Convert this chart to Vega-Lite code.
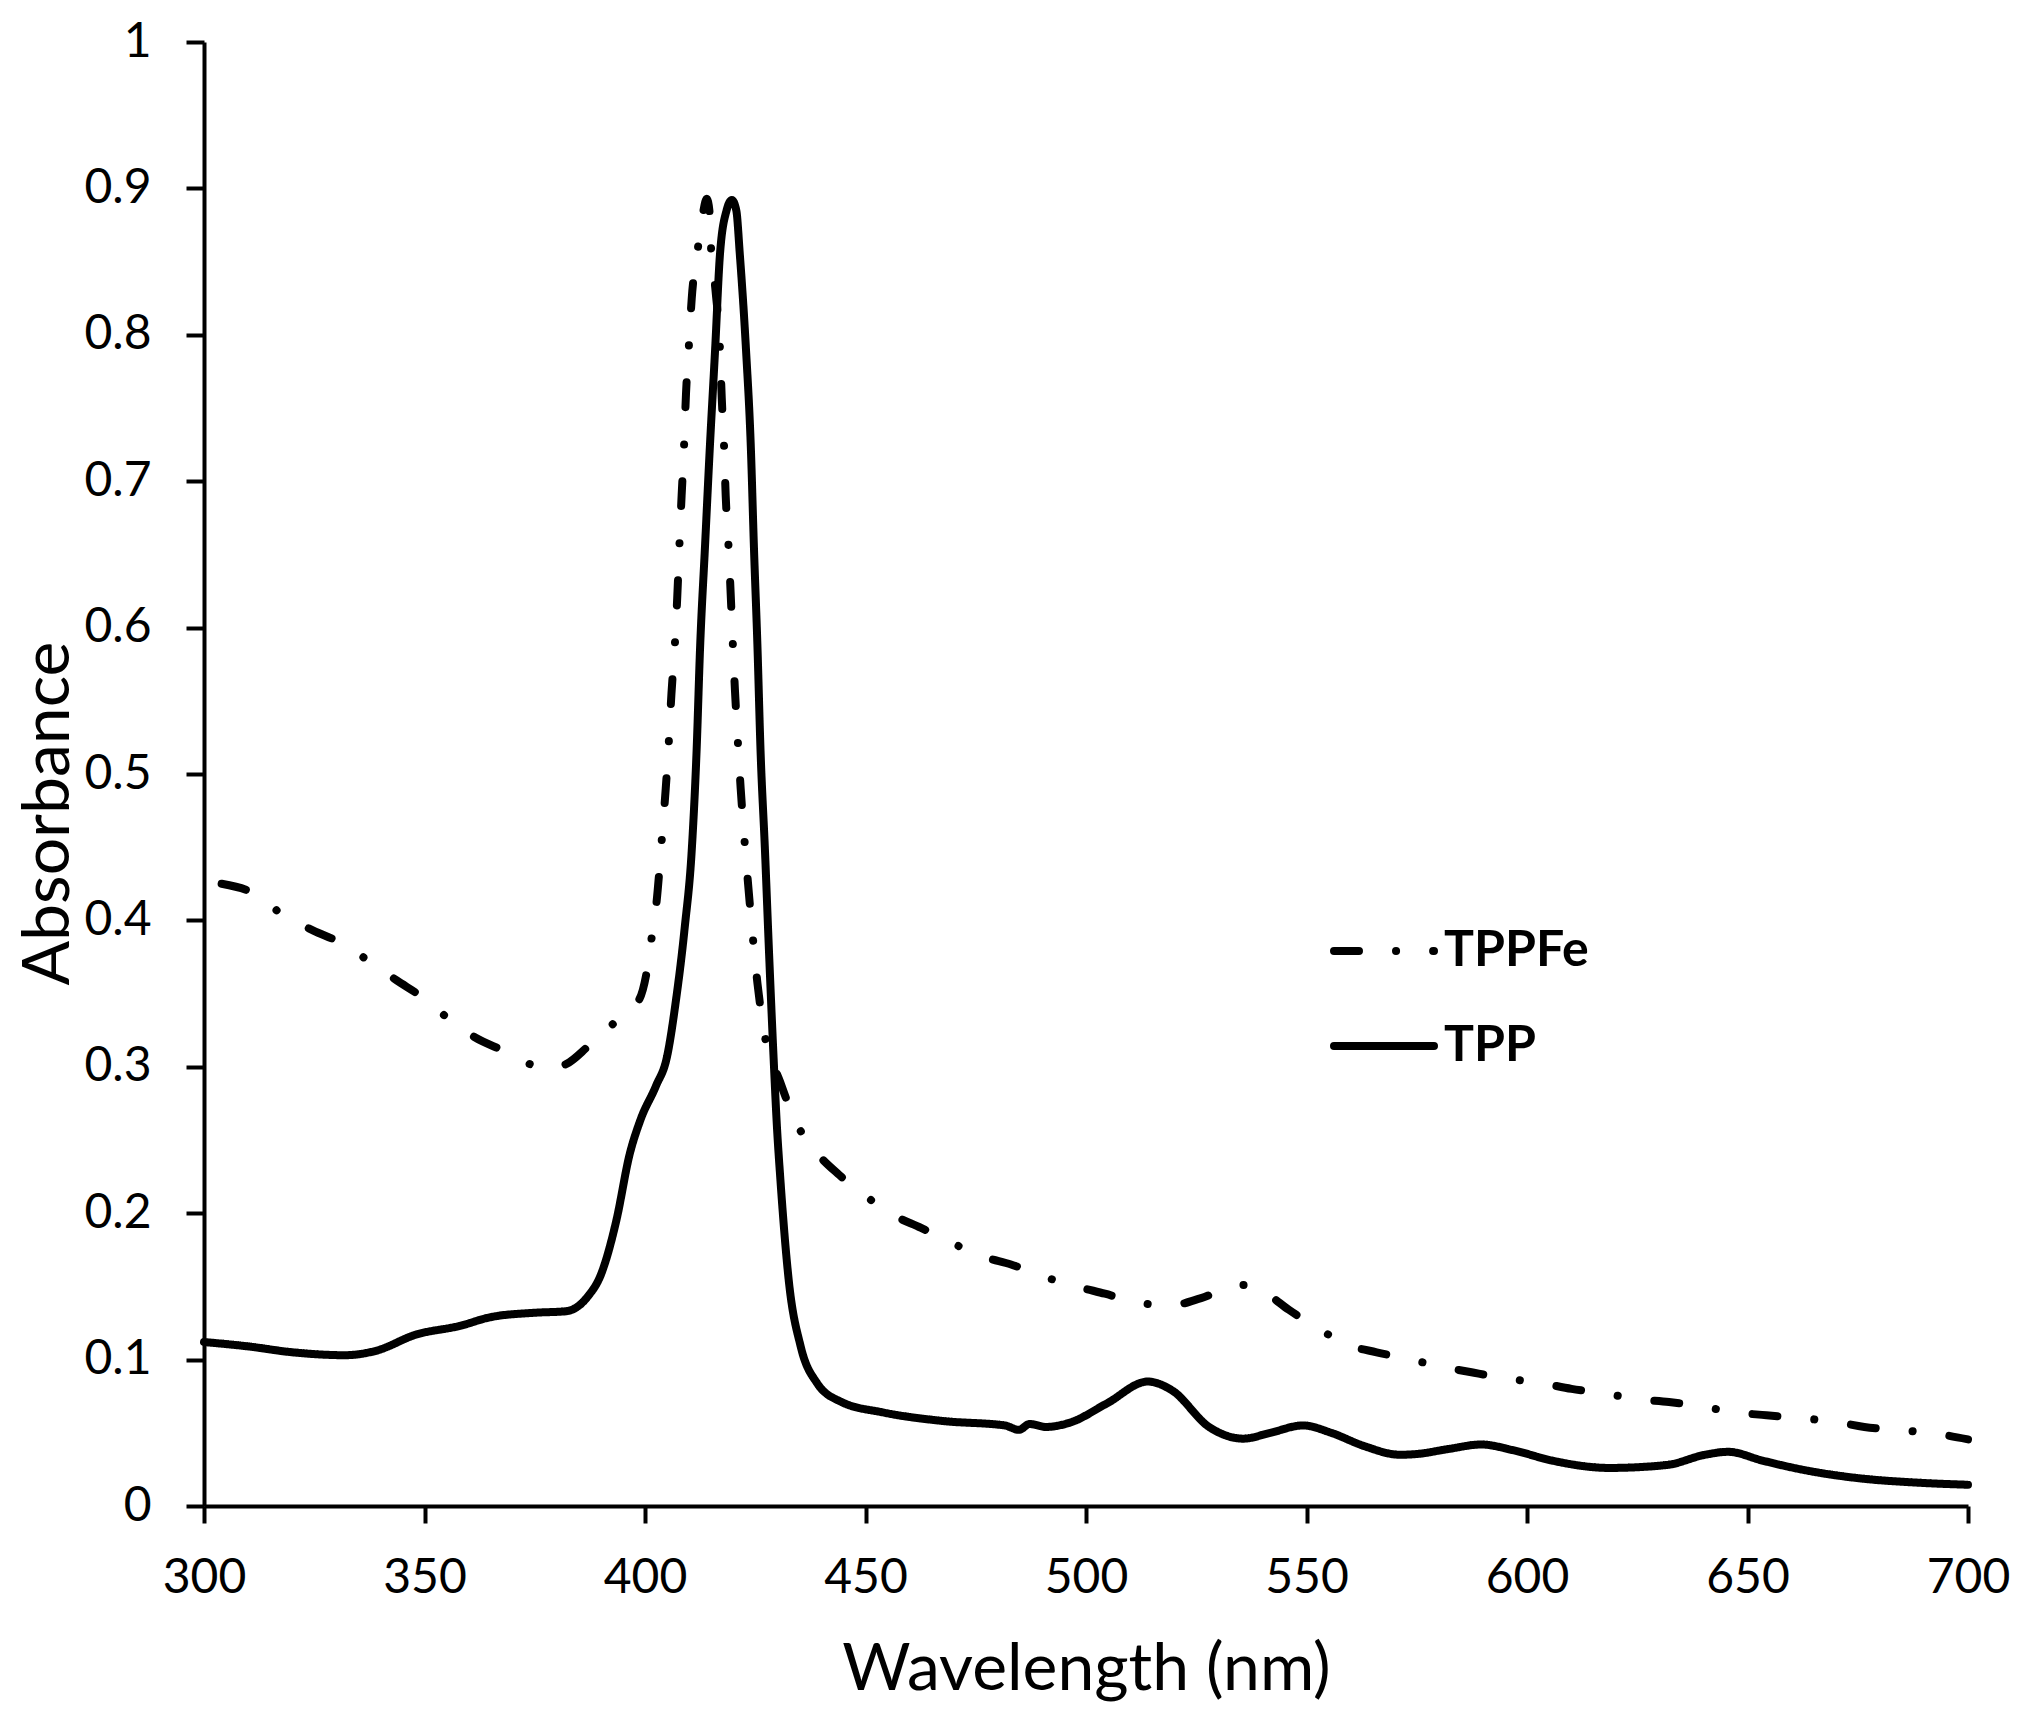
{
  "$schema": "https://vega.github.io/schema/vega-lite/v6.json",
  "width": 1764,
  "height": 1464,
  "autosize": "none",
  "padding": {"left": 204, "top": 42, "right": 64, "bottom": 224},
  "background": "white",
  "config": {"view": {"stroke": null}, "font": "Lato"},
  "data": {
    "values": [
      {"series": "TPP", "wl": 300, "a": 0.112},
      {"series": "TPP", "wl": 310, "a": 0.109},
      {"series": "TPP", "wl": 320, "a": 0.105},
      {"series": "TPP", "wl": 332, "a": 0.103},
      {"series": "TPP", "wl": 339, "a": 0.106},
      {"series": "TPP", "wl": 348, "a": 0.117},
      {"series": "TPP", "wl": 358, "a": 0.123},
      {"series": "TPP", "wl": 365, "a": 0.129},
      {"series": "TPP", "wl": 375, "a": 0.132},
      {"series": "TPP", "wl": 382, "a": 0.133},
      {"series": "TPP", "wl": 387, "a": 0.143},
      {"series": "TPP", "wl": 390, "a": 0.158},
      {"series": "TPP", "wl": 393.5, "a": 0.195},
      {"series": "TPP", "wl": 396.5, "a": 0.24},
      {"series": "TPP", "wl": 399, "a": 0.264},
      {"series": "TPP", "wl": 402.5, "a": 0.287},
      {"series": "TPP", "wl": 405, "a": 0.307},
      {"series": "TPP", "wl": 407, "a": 0.345},
      {"series": "TPP", "wl": 409, "a": 0.395},
      {"series": "TPP", "wl": 410.6, "a": 0.448},
      {"series": "TPP", "wl": 411.7, "a": 0.516},
      {"series": "TPP", "wl": 412.5, "a": 0.587},
      {"series": "TPP", "wl": 413.6, "a": 0.655},
      {"series": "TPP", "wl": 414.7, "a": 0.723},
      {"series": "TPP", "wl": 415.9, "a": 0.79},
      {"series": "TPP", "wl": 417, "a": 0.855},
      {"series": "TPP", "wl": 418.5, "a": 0.885},
      {"series": "TPP", "wl": 419.7, "a": 0.892},
      {"series": "TPP", "wl": 420.7, "a": 0.885},
      {"series": "TPP", "wl": 421.5, "a": 0.855},
      {"series": "TPP", "wl": 422.9, "a": 0.79},
      {"series": "TPP", "wl": 424, "a": 0.723},
      {"series": "TPP", "wl": 424.7, "a": 0.655},
      {"series": "TPP", "wl": 425.5, "a": 0.587},
      {"series": "TPP", "wl": 426.2, "a": 0.516},
      {"series": "TPP", "wl": 427.2, "a": 0.448},
      {"series": "TPP", "wl": 428.1, "a": 0.38},
      {"series": "TPP", "wl": 429.1, "a": 0.31},
      {"series": "TPP", "wl": 429.9, "a": 0.26},
      {"series": "TPP", "wl": 430.7, "a": 0.223},
      {"series": "TPP", "wl": 432.6, "a": 0.154},
      {"series": "TPP", "wl": 435.3, "a": 0.109},
      {"series": "TPP", "wl": 439, "a": 0.084},
      {"series": "TPP", "wl": 444.6, "a": 0.071},
      {"series": "TPP", "wl": 453.8, "a": 0.064},
      {"series": "TPP", "wl": 467.7, "a": 0.058},
      {"series": "TPP", "wl": 481.6, "a": 0.055},
      {"series": "TPP", "wl": 484.8, "a": 0.052},
      {"series": "TPP", "wl": 487.2, "a": 0.056},
      {"series": "TPP", "wl": 490.9, "a": 0.054},
      {"series": "TPP", "wl": 496.4, "a": 0.057},
      {"series": "TPP", "wl": 504.7, "a": 0.07},
      {"series": "TPP", "wl": 514, "a": 0.085},
      {"series": "TPP", "wl": 519.5, "a": 0.079},
      {"series": "TPP", "wl": 527.9, "a": 0.054},
      {"series": "TPP", "wl": 535.7, "a": 0.046},
      {"series": "TPP", "wl": 541.8, "a": 0.05},
      {"series": "TPP", "wl": 549.2, "a": 0.055},
      {"series": "TPP", "wl": 555.6, "a": 0.05},
      {"series": "TPP", "wl": 563, "a": 0.041},
      {"series": "TPP", "wl": 571.2, "a": 0.035},
      {"series": "TPP", "wl": 575, "a": 0.0355},
      {"series": "TPP", "wl": 582.3, "a": 0.039},
      {"series": "TPP", "wl": 589.6, "a": 0.042},
      {"series": "TPP", "wl": 597, "a": 0.038},
      {"series": "TPP", "wl": 605.7, "a": 0.031},
      {"series": "TPP", "wl": 618.7, "a": 0.026},
      {"series": "TPP", "wl": 631.7, "a": 0.028},
      {"series": "TPP", "wl": 640.4, "a": 0.035},
      {"series": "TPP", "wl": 645.6, "a": 0.037},
      {"series": "TPP", "wl": 653.4, "a": 0.031},
      {"series": "TPP", "wl": 662.1, "a": 0.025},
      {"series": "TPP", "wl": 675.1, "a": 0.019},
      {"series": "TPP", "wl": 688.2, "a": 0.016},
      {"series": "TPP", "wl": 700, "a": 0.0145},
      {"series": "TPPFe", "wl": 304, "a": 0.425},
      {"series": "TPPFe", "wl": 311.6, "a": 0.418},
      {"series": "TPPFe", "wl": 317.8, "a": 0.404},
      {"series": "TPPFe", "wl": 324.8, "a": 0.393},
      {"series": "TPPFe", "wl": 330.8, "a": 0.385},
      {"series": "TPPFe", "wl": 337.5, "a": 0.372},
      {"series": "TPPFe", "wl": 343.7, "a": 0.359},
      {"series": "TPPFe", "wl": 349.3, "a": 0.348},
      {"series": "TPPFe", "wl": 355.4, "a": 0.333},
      {"series": "TPPFe", "wl": 361.5, "a": 0.32},
      {"series": "TPPFe", "wl": 367.9, "a": 0.311},
      {"series": "TPPFe", "wl": 374.7, "a": 0.301},
      {"series": "TPPFe", "wl": 378, "a": 0.299},
      {"series": "TPPFe", "wl": 382.2, "a": 0.302},
      {"series": "TPPFe", "wl": 387.1, "a": 0.314},
      {"series": "TPPFe", "wl": 393, "a": 0.33},
      {"series": "TPPFe", "wl": 398.7, "a": 0.346},
      {"series": "TPPFe", "wl": 400.4, "a": 0.365},
      {"series": "TPPFe", "wl": 401.5, "a": 0.388},
      {"series": "TPPFe", "wl": 402.6, "a": 0.412},
      {"series": "TPPFe", "wl": 403.8, "a": 0.455},
      {"series": "TPPFe", "wl": 404.7, "a": 0.49},
      {"series": "TPPFe", "wl": 405.4, "a": 0.522},
      {"series": "TPPFe", "wl": 406, "a": 0.555},
      {"series": "TPPFe", "wl": 406.8, "a": 0.59},
      {"series": "TPPFe", "wl": 407.3, "a": 0.62},
      {"series": "TPPFe", "wl": 407.8, "a": 0.656},
      {"series": "TPPFe", "wl": 408.3, "a": 0.69},
      {"series": "TPPFe", "wl": 408.8, "a": 0.72},
      {"series": "TPPFe", "wl": 409.3, "a": 0.76},
      {"series": "TPPFe", "wl": 409.9, "a": 0.79},
      {"series": "TPPFe", "wl": 410.6, "a": 0.825},
      {"series": "TPPFe", "wl": 411.9, "a": 0.857},
      {"series": "TPPFe", "wl": 413.2, "a": 0.884},
      {"series": "TPPFe", "wl": 414, "a": 0.893},
      {"series": "TPPFe", "wl": 414.6, "a": 0.885},
      {"series": "TPPFe", "wl": 415, "a": 0.858},
      {"series": "TPPFe", "wl": 416, "a": 0.83},
      {"series": "TPPFe", "wl": 417, "a": 0.79},
      {"series": "TPPFe", "wl": 417.4, "a": 0.757},
      {"series": "TPPFe", "wl": 417.9, "a": 0.726},
      {"series": "TPPFe", "wl": 418.3, "a": 0.69},
      {"series": "TPPFe", "wl": 418.9, "a": 0.658},
      {"series": "TPPFe", "wl": 419.4, "a": 0.625},
      {"series": "TPPFe", "wl": 419.9, "a": 0.59},
      {"series": "TPPFe", "wl": 420.4, "a": 0.557},
      {"series": "TPPFe", "wl": 421, "a": 0.525},
      {"series": "TPPFe", "wl": 421.7, "a": 0.49},
      {"series": "TPPFe", "wl": 422.5, "a": 0.457},
      {"series": "TPPFe", "wl": 423.4, "a": 0.424},
      {"series": "TPPFe", "wl": 424.4, "a": 0.39},
      {"series": "TPPFe", "wl": 425.5, "a": 0.357},
      {"series": "TPPFe", "wl": 427, "a": 0.324},
      {"series": "TPPFe", "wl": 430.6, "a": 0.29},
      {"series": "TPPFe", "wl": 434.6, "a": 0.26},
      {"series": "TPPFe", "wl": 439, "a": 0.241},
      {"series": "TPPFe", "wl": 444.1, "a": 0.226},
      {"series": "TPPFe", "wl": 449.9, "a": 0.212},
      {"series": "TPPFe", "wl": 456.1, "a": 0.199},
      {"series": "TPPFe", "wl": 462.6, "a": 0.19},
      {"series": "TPPFe", "wl": 469.4, "a": 0.18},
      {"series": "TPPFe", "wl": 477, "a": 0.17},
      {"series": "TPPFe", "wl": 483, "a": 0.165},
      {"series": "TPPFe", "wl": 490.1, "a": 0.157},
      {"series": "TPPFe", "wl": 497.8, "a": 0.15},
      {"series": "TPPFe", "wl": 504.3, "a": 0.145},
      {"series": "TPPFe", "wl": 511.7, "a": 0.139},
      {"series": "TPPFe", "wl": 519.1, "a": 0.137},
      {"series": "TPPFe", "wl": 526.1, "a": 0.142},
      {"series": "TPPFe", "wl": 533.3, "a": 0.15},
      {"series": "TPPFe", "wl": 537, "a": 0.151},
      {"series": "TPPFe", "wl": 541, "a": 0.145},
      {"series": "TPPFe", "wl": 546, "a": 0.134},
      {"series": "TPPFe", "wl": 552.8, "a": 0.121},
      {"series": "TPPFe", "wl": 559.4, "a": 0.11},
      {"series": "TPPFe", "wl": 565.9, "a": 0.105},
      {"series": "TPPFe", "wl": 573.6, "a": 0.1},
      {"series": "TPPFe", "wl": 581, "a": 0.095},
      {"series": "TPPFe", "wl": 588, "a": 0.091},
      {"series": "TPPFe", "wl": 595.6, "a": 0.087},
      {"series": "TPPFe", "wl": 603.1, "a": 0.084},
      {"series": "TPPFe", "wl": 610.1, "a": 0.08},
      {"series": "TPPFe", "wl": 617.5, "a": 0.077},
      {"series": "TPPFe", "wl": 624.8, "a": 0.073},
      {"series": "TPPFe", "wl": 632.2, "a": 0.071},
      {"series": "TPPFe", "wl": 639.6, "a": 0.068},
      {"series": "TPPFe", "wl": 647, "a": 0.064},
      {"series": "TPPFe", "wl": 654.3, "a": 0.062},
      {"series": "TPPFe", "wl": 661.7, "a": 0.06},
      {"series": "TPPFe", "wl": 669, "a": 0.058},
      {"series": "TPPFe", "wl": 676.5, "a": 0.054},
      {"series": "TPPFe", "wl": 683.8, "a": 0.052},
      {"series": "TPPFe", "wl": 691.2, "a": 0.05},
      {"series": "TPPFe", "wl": 700, "a": 0.0455}
    ]
  },
  "mark": {
    "type": "line",
    "interpolate": "monotone",
    "strokeWidth": 8,
    "strokeCap": "round",
    "color": "black"
  },
  "encoding": {
    "x": {
      "field": "wl",
      "type": "quantitative",
      "scale": {"domain": [300, 700], "nice": false, "zero": false},
      "axis": {
        "title": "Wavelength (nm)",
        "values": [300, 350, 400, 450, 500, 550, 600, 650, 700],
        "grid": false,
        "domainColor": "black",
        "domainWidth": 4,
        "tickColor": "black",
        "tickWidth": 4,
        "tickSize": 17,
        "labelFontSize": 48,
        "labelColor": "black",
        "labelPadding": 31,
        "labelFlush": false,
        "titleFontSize": 66,
        "titleFontWeight": "normal",
        "titleColor": "black",
        "titleBaseline": "alphabetic",
        "titleY": 183
      }
    },
    "y": {
      "field": "a",
      "type": "quantitative",
      "scale": {"domain": [0, 1], "nice": false},
      "axis": {
        "title": "Absorbance",
        "values": [0, 0.1, 0.2, 0.3, 0.4, 0.5, 0.6, 0.7, 0.8, 0.9, 1],
        "format": ".1~f",
        "grid": false,
        "domainColor": "black",
        "domainWidth": 4,
        "tickColor": "black",
        "tickWidth": 4,
        "tickSize": 18,
        "labelFontSize": 48,
        "labelColor": "black",
        "labelPadding": 35,
        "labelFlush": false,
        "titleFontSize": 66,
        "titleFontWeight": "normal",
        "titleColor": "black",
        "titleBaseline": "alphabetic",
        "titleAngle": -90,
        "titleX": -136,
        "titleY": 771
      }
    },
    "strokeDash": {
      "field": "series",
      "type": "nominal",
      "scale": {
        "domain": ["TPPFe", "TPP"],
        "range": [[25, 37, 0.1, 37], [1, 0]]
      },
      "legend": {
        "title": null,
        "orient": "none",
        "legendX": 1126,
        "legendY": 855,
        "padding": 0,
        "symbolType": "stroke",
        "symbolSize": 10000,
        "symbolStrokeWidth": 8,
        "symbolStrokeColor": "black",
        "labelFontSize": 50,
        "labelFontWeight": "bold",
        "labelColor": "black",
        "labelOffset": 6,
        "rowPadding": 16,
        "encode": {"symbols": {"update": {"strokeCap": {"value": "round"}}}}
      }
    }
  }
}
